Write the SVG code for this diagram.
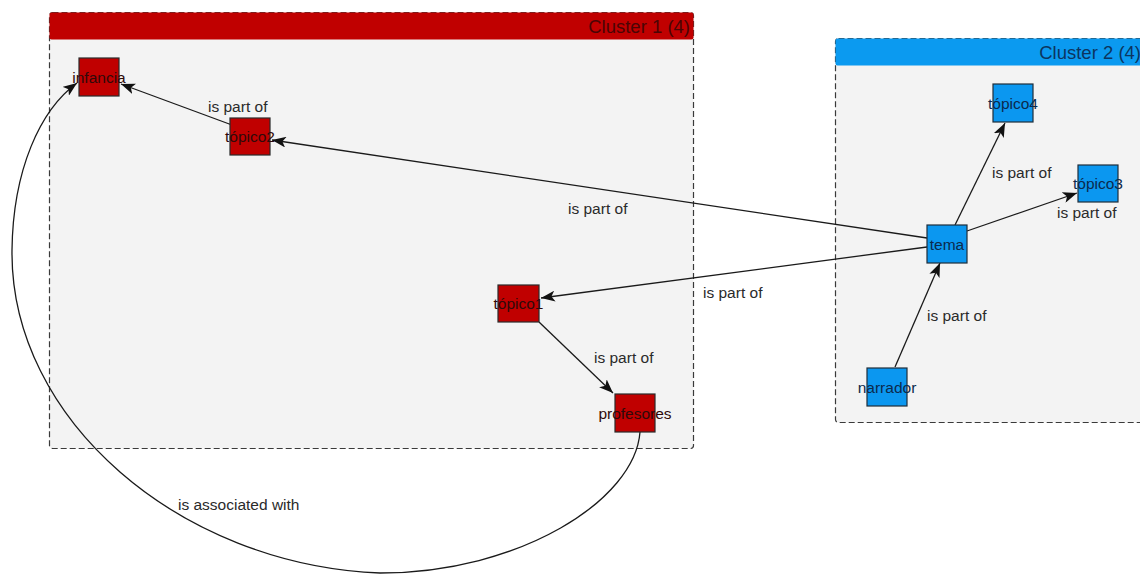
<svg xmlns="http://www.w3.org/2000/svg" width="1140" height="574" viewBox="0 0 1140 574">
  <style>
    .body { fill: #f3f3f3; stroke: #3a3a3a; stroke-width: 1.2; stroke-dasharray: 6 3; }
    .hdr-red { fill: #c00000; }
    .hdr-blue { fill: #0b9af0; }
    .hdr-text { font-family: "Liberation Sans", Arial, sans-serif; font-size: 18.5px; text-anchor: end; }
    .node-red { fill: #c00000; stroke: #2a2a2a; stroke-width: 1.2; }
    .node-blue { fill: #0b97f0; stroke: #1f2d3a; stroke-width: 1.2; }
    .nlabel { font-family: "Liberation Sans", Arial, sans-serif; font-size: 15.5px; text-anchor: middle; }
    .nlabel-red { fill: #2f0a0a; }
    .nlabel-blue { fill: #0b2a4c; }
    .edge { fill: none; stroke: #1a1a1a; stroke-width: 1.3; marker-end: url(#arrow); }
    .elabel { font-family: "Liberation Sans", Arial, sans-serif; font-size: 15.5px; fill: #2a2a2a; }
  </style>
  <defs>
    <marker id="arrow" viewBox="0 0 14 11" refX="14" refY="5.5" markerWidth="14" markerHeight="11" markerUnits="userSpaceOnUse" orient="auto">
      <path d="M0,0 L14,5.5 L0,11 L3.5,5.5 z" fill="#111"/>
    </marker>
  </defs>

  <rect width="1140" height="574" fill="#ffffff"/>

  <!-- clusters -->
  <g id="cluster1">
    <rect class="body" x="49.5" y="12.5" width="644" height="436" rx="3"/>
    <rect class="hdr-red" x="49.5" y="12.5" width="644" height="27" rx="2"/>
    <text class="hdr-text" x="690" y="33" fill="#4a0505">Cluster 1 (4)</text>
  </g>
  <g id="cluster2">
    <rect class="body" x="835.5" y="38.5" width="320" height="384" rx="3"/>
    <rect class="hdr-blue" x="835.5" y="38.5" width="320" height="27" rx="2"/>
    <text class="hdr-text" x="1141" y="59" fill="#0c3560">Cluster 2 (4)</text>
  </g>

  <!-- connectors -->
  <g id="edges">
    <path class="edge" d="M232,125 L121,84"/>
    <path class="edge" d="M927,238 L272,140"/>
    <path class="edge" d="M927,247 L541,298"/>
    <path class="edge" d="M539,322 L613,393"/>
    <path class="edge" d="M955,225 L1005,123"/>
    <path class="edge" d="M967,231 L1077,193"/>
    <path class="edge" d="M895,367 L940,263"/>
    <path class="edge" d="M640,432 C635,500 520,573 380,573 C180,565 10,420 12,250 C13,170 40,110 77,83"/>
  </g>

  <g id="edge-labels">
    <text class="elabel" x="208" y="112">is part of</text>
    <text class="elabel" x="568" y="214">is part of</text>
    <text class="elabel" x="703" y="298">is part of</text>
    <text class="elabel" x="594" y="363">is part of</text>
    <text class="elabel" x="992" y="178">is part of</text>
    <text class="elabel" x="1057" y="218">is part of</text>
    <text class="elabel" x="927" y="321">is part of</text>
    <text class="elabel" x="178" y="510">is associated with</text>
  </g>

  <!-- nodes -->
  <g id="infancia">
    <rect class="node-red" x="79" y="58" width="40" height="38"/>
    <text class="nlabel nlabel-red" x="99" y="83">infancia</text>
  </g>
  <g id="topico2">
    <rect class="node-red" x="230" y="118" width="40" height="37"/>
    <text class="nlabel nlabel-red" x="250" y="142">tópico2</text>
  </g>
  <g id="topico1">
    <rect class="node-red" x="498" y="285" width="41" height="37"/>
    <text class="nlabel nlabel-red" x="518.5" y="309">tópico1</text>
  </g>
  <g id="profesores">
    <rect class="node-red" x="615" y="394" width="40" height="38"/>
    <text class="nlabel nlabel-red" x="635" y="419">profesores</text>
  </g>
  <g id="topico4">
    <rect class="node-blue" x="993" y="84" width="40" height="38"/>
    <text class="nlabel nlabel-blue" x="1013" y="109">tópico4</text>
  </g>
  <g id="topico3">
    <rect class="node-blue" x="1078" y="165" width="40" height="37"/>
    <text class="nlabel nlabel-blue" x="1098" y="189">tópico3</text>
  </g>
  <g id="tema">
    <rect class="node-blue" x="927" y="225" width="40" height="38"/>
    <text class="nlabel nlabel-blue" x="947" y="250">tema</text>
  </g>
  <g id="narrador">
    <rect class="node-blue" x="867" y="368" width="40" height="38"/>
    <text class="nlabel nlabel-blue" x="887" y="393">narrador</text>
  </g>
</svg>
